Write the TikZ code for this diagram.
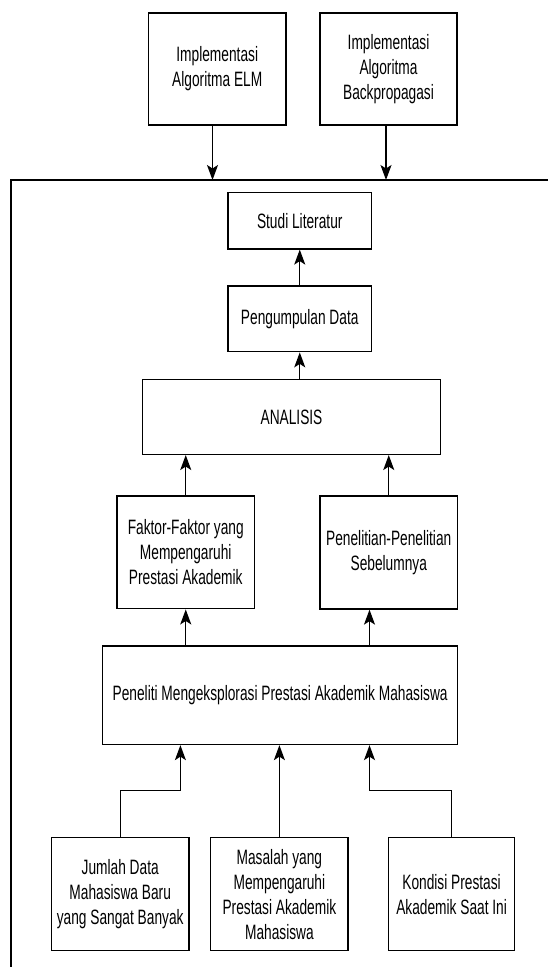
\documentclass[tikz,border=0pt]{standalone}
\usepackage{fontspec}
\setmainfont[FakeStretch=0.66]{Liberation Sans}
\usetikzlibrary{arrows.meta}

\begin{document}
\begin{tikzpicture}[x=1pt, y=-1pt, line width=1.3pt,
	kotak/.style={draw=black, align=center, inner sep=0pt, font=\fontsize{20.8}{25}\selectfont},
	panah/.style={-{Stealth[length=15pt, width=11pt, inset=3.5pt]}}]
				
				\useasboundingbox (0,0) rectangle (548,967);
				
				\node[kotak, minimum width=137.5, minimum height=112] (elm) at (217.25,69) {Implementasi\\Algoritma ELM};
				
				\node[kotak, minimum width=137, minimum height=112] (bp) at (388.5,69) {Implementasi\\Algoritma\\Backpropagasi};
				
				\coordinate (bingkai) at (11,180);
				
				\draw (548,180) -- (bingkai) -- (11,967);
				
				\node[kotak, minimum width=143.5, minimum height=56.7] (studi) at (299.75,220.6) {Studi Literatur};
				
				\node[kotak, minimum width=143.5, minimum height=65.7] (data) at (299.75,318.9) {Pengumpulan Data};
				
				\node[kotak, minimum width=297.8, minimum height=74.8] (analisis) at (291.5,417) {ANALISIS};
				
				\node[kotak, minimum width=137.5, minimum height=112.8] (faktor) at (185.75,552.4) {Faktor-Faktor yang\\Mempengaruhi\\Prestasi Akademik};
				
				\node[kotak, minimum width=137.5, minimum height=113] (sebelum) at (388.75,552.5) {Penelitian-Penelitian\\Sebelumnya};
				
				\node[kotak, minimum width=354.7, minimum height=98.5] (peneliti) at (280.15,695.25) {Peneliti Mengeksplorasi Prestasi Akademik Mahasiswa};
				
				\node[kotak, minimum width=137.6, minimum height=112.9] (jumlah) at (120.2,894.25) {Jumlah Data\\Mahasiswa Baru\\yang Sangat Banyak};
				
				\node[kotak, minimum width=137.2, minimum height=112.9] (masalah) at (279.4,894.25) {Masalah yang\\Mempengaruhi\\Prestasi Akademik\\Mahasiswa};
				
				\node[kotak, minimum width=125.8, minimum height=112.9] (kondisi) at (451.6,894.25) {Kondisi Prestasi\\Akademik Saat Ini};
				
				\draw[panah] ([xshift=-4.75pt]elm.south) -- ([xshift=-4.75pt]elm.south |- bingkai);
				
				\draw[panah] ([xshift=-2.5pt]bp.south) -- ([xshift=-2.5pt]bp.south |- bingkai);
				
				\draw[panah] (data.north) -- (studi.south);
				
				\draw[panah] (data.south |- analisis.north) -- (data.south);
				
				\draw[panah] (faktor.north) -- (faktor.north |- analisis.south);
				
				\draw[panah] (sebelum.north) -- (sebelum.north |- analisis.south);
				
				\draw[panah] (faktor.south |- peneliti.north) -- (faktor.south);
				
				\draw[panah] ([xshift=-19.25pt]sebelum.south |- peneliti.north) -- ([xshift=-19.25pt]sebelum.south);
				
				\draw[panah] (jumlah.north) -- ++(0,-46.8) -| ([xshift=-99.75pt]peneliti.south);
				
				\draw[panah] (masalah.north) -- (masalah.north |- peneliti.south);
				
				\draw[panah] (kondisi.north) -- ++(0,-46.8) -| ([xshift=89.35pt]peneliti.south);
				
				\end{tikzpicture}
\end{document}
